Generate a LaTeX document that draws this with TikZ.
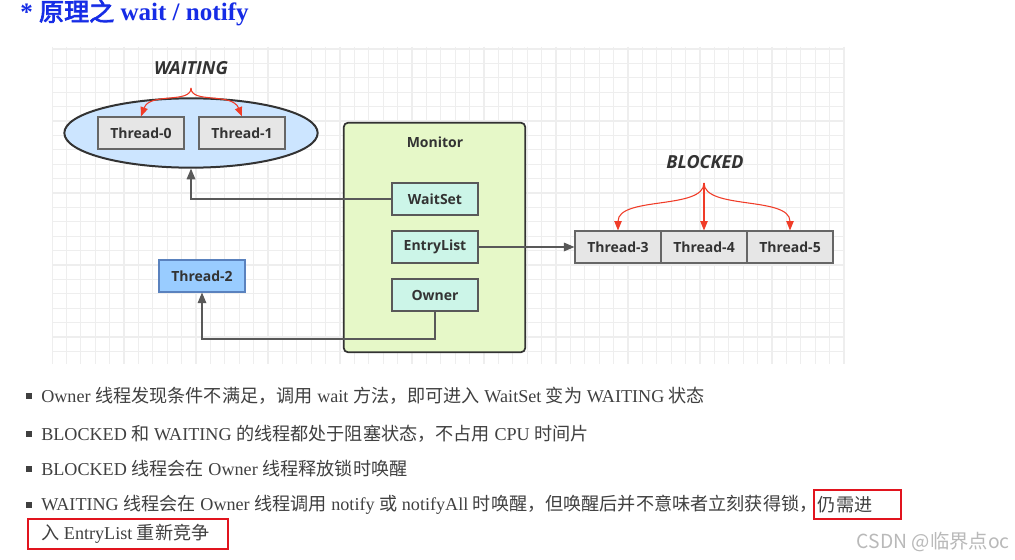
\documentclass[tikz,border=0pt]{standalone}
\usepackage{fontspec}
\setmainfont{Liberation Serif}
\newfontfamily\cjk{Noto Sans CJK SC}[AutoFakeBold=3]
\newfontfamily\uisans{Open Sans}
\usetikzlibrary{arrows.meta,calc,shapes.geometric}
\newcommand{\C}[1]{{\cjk #1}}
\definecolor{titleblue}{RGB}{22,44,230}
\definecolor{txt}{RGB}{64,64,64}
\definecolor{lbl}{RGB}{51,51,51}
\definecolor{ellfill}{RGB}{204,229,255}
\definecolor{grayfill}{RGB}{230,230,230}
\definecolor{bluefill}{RGB}{153,204,255}
\definecolor{bluebord}{RGB}{90,130,190}
\definecolor{monfill}{RGB}{230,248,200}
\definecolor{mintfill}{RGB}{204,245,232}
\definecolor{gridc}{RGB}{238,238,238}
\definecolor{arrred}{RGB}{240,60,40}
\definecolor{boxred}{RGB}{225,20,30}
\definecolor{wm}{RGB}{185,185,185}
\tikzset{
  lblfont/.style={font=\uisans\bfseries\fontsize{10.5}{12}\selectfont, text=lbl},
  tbox/.style={lblfont, draw=black!60, fill=grayfill, line width=0.8pt, minimum width=64.5pt, minimum height=24pt, inner sep=0pt},
  mbox/.style={tbox, fill=mintfill, draw=black!65},
  statelbl/.style={font=\uisans\bfseries\itshape\fontsize{13.5}{16}\selectfont, text=lbl},
  conn/.style={draw=black!65, line width=0.9pt},
  arr/.style={conn, -{Triangle[length=8pt,width=6.5pt]}},
  redarr/.style={draw=arrred, line width=0.8pt, -{Triangle[length=7pt,width=5.5pt]}},
  bodytxt/.style={font=\fontsize{13.6}{16}\selectfont, text=txt, anchor=west, inner sep=0pt},
  bullet/.style={fill=black!75, minimum size=4.5pt, inner sep=0pt},
  redbox/.style={draw=boxred, line width=1.6pt}
}
\begin{document}
\begin{tikzpicture}[x=0.75pt,y=-0.75pt]
\useasboundingbox (0,0) rectangle (1015,560);
\fill[white] (0,0) rectangle (1015,560);
% grid
\begin{scope}
\clip (52,47) rectangle (845,364);
\foreach \i in {0,...,55} {\draw[gridc, line width=0.8pt] (52+\i*14.4,47) -- (52+\i*14.4,364);}
\foreach \j in {0,...,22} {\draw[gridc, line width=0.8pt] (52,49+\j*14.4) -- (845,49+\j*14.4);}
\end{scope}
% title
\node[anchor=west, inner sep=0pt, text=titleblue, font=\bfseries\fontsize{18.8}{22}\selectfont] (title) at (20,13) {* \C{原理之} wait / notify};
% waiting ellipse
\node[draw=black!80, fill=ellfill, ellipse, line width=1.5pt, minimum width=190pt, minimum height=52pt, inner sep=0pt] (ell) at (191,133) {};
\node[tbox] (t0) at (141,133) {Thread-0};
\node[tbox] (t1) at (242,133) {Thread-1};
\node[statelbl] (waiting) at (191,68) {WAITING};
\coordinate (wtop) at (191,88);
\draw[redarr] (wtop) .. controls (191,104) and (150,92) .. (t0.north);
\draw[redarr] (wtop) .. controls (191,104) and (232,92) .. (t1.north);
% monitor
\node[draw=black!80, fill=monfill, rounded corners=3pt, line width=1.3pt, minimum width=136pt, minimum height=172pt, inner sep=0pt] (mon) at (434.5,237.5) {};
\node[lblfont] (monlbl) at (435,142) {Monitor};
\node[mbox] (ws) at (435,199) {WaitSet};
\node[mbox] (el) at (435,247) {EntryList};
\node[mbox] (ow) at (435,295) {Owner};
% thread-2
\node[tbox, fill=bluefill, draw=bluebord] (t2) at (202,276) {Thread-2};
% blocked
\node[tbox] (t3) at (618,247) {Thread-3};
\node[tbox] (t4) at (704,247) {Thread-4};
\node[tbox] (t5) at (790,247) {Thread-5};
\node[statelbl] (blocked) at (705,162) {BLOCKED};
\coordinate (btop) at (704,183);
\draw[redarr] (btop) .. controls (704,210) and (618,196) .. (t3.north);
\draw[redarr] (btop) -- (t4.north);
\draw[redarr] (btop) .. controls (704,210) and (790,196) .. (t5.north);
% connectors
\draw[arr] (ws.west) -| (ell.south);
\draw[arr] (ow.south) |- (300,339) -| (t2.south);
\draw[arr] (el.east) -- (t3.west);
% bullet text
\node[bullet] (b1) at (29,396) {};
\node[bullet] (b2) at (29,434) {};
\node[bullet] (b3) at (29,469) {};
\node[bullet] (b4) at (29,505) {};
\node[bodytxt] (l1) at (41,396) {Owner \C{线程发现条件不满足，调用} wait \C{方法，即可进入} WaitSet \C{变为} WAITING \C{状态}};
\node[bodytxt] (l2) at (41,434) {BLOCKED \C{和} WAITING \C{的线程都处于阻塞状态，不占用} CPU \C{时间片}};
\node[bodytxt] (l3) at (41,469) {BLOCKED \C{线程会在} Owner \C{线程释放锁时唤醒}};
\node[bodytxt] (l4) at (41,505) {WAITING \C{线程会在} Owner \C{线程调用} notify \C{或} notifyAll \C{时唤醒，但唤醒后并不意味者立刻获得锁，}};
\node[bodytxt] (l4b) at (l4.east) {\C{仍需进}};
\node[bodytxt] (l5) at (41,534) {\C{入} EntryList \C{重新竞争}};
\draw[redbox] ($(l4b.west)+(-4,-15)$) rectangle ($(l4b.east)+(28,14)$);
\draw[redbox] ($(l5.west)+(-13,-15)$) rectangle ($(l5.east)+(18,15)$);
% watermark
\node[anchor=east, inner sep=0pt, text=wm, font=\cjk\fontsize{14.5}{17}\selectfont] (wmark) at (1010,542) {CSDN @临界点oc};
\end{tikzpicture}
\end{document}
